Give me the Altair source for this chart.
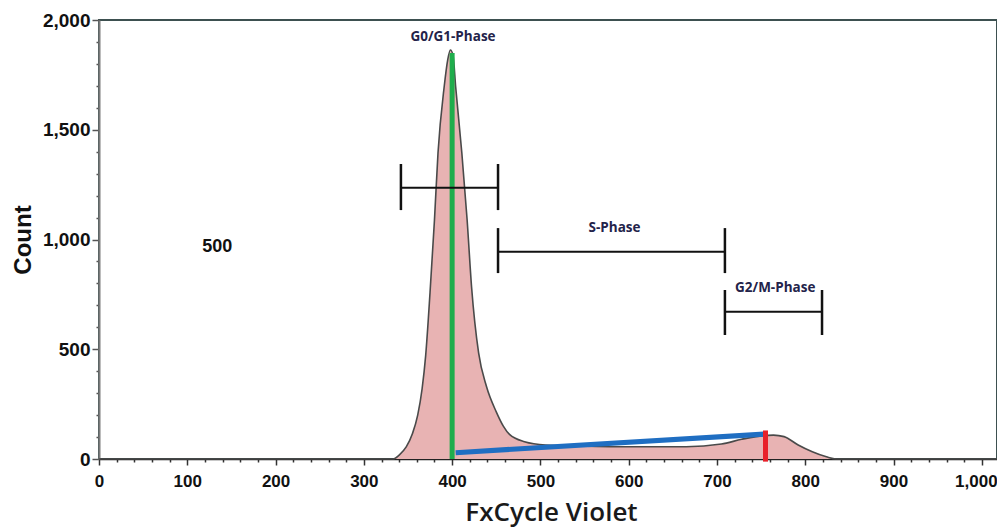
import altair as alt
import pandas as pd

# Histogram (FxCycle Violet channel vs. count)
hist_x = [0, 333, 340, 348, 355, 361, 366, 370, 375, 380, 384, 391, 395, 398, 401, 404, 411,
          417, 422, 430, 439, 450, 458, 465, 482, 506, 546, 585, 625, 665, 705, 728,
          744, 764, 776, 792, 808, 824, 835, 1017]
hist_count = [0, 0, 18, 55, 115, 200, 320, 470, 760, 1089, 1394, 1696, 1818, 1863, 1840, 1696, 1394,
              1089, 785, 483, 329, 215, 150, 112, 79, 64, 59, 56, 56, 56, 68, 90,
              102, 109, 102, 64, 33, 10, 0, 0]

# Phase gates (brackets)
gate_names = ["G0/G1", "S", "G2/M"]
gate_start = [342, 452, 709]
gate_end = [452, 709, 819]
gate_level = [1236, 944, 671]
gate_cap_low = [1134, 847, 565]
gate_cap_high = [1344, 1052, 770]

# Text labels
label_text = ["G0/G1-Phase", "S-Phase", "G2/M-Phase"]
label_x = [401, 584, 766]
label_y = [1923, 1052, 779]

side_text = ["500"]
side_x = [134]
side_y = [968]

# Marker lines
green_x = [400]
green_top = [1850]
red_x = [755]
red_low = [-12]
red_high = [130]
blue_x1, blue_y1, blue_x2, blue_y2 = [404], [29], [756], [114]

x_ticks = list(range(0, 1001, 20))
y_ticks = list(range(0, 2001, 100))

hist = pd.DataFrame({"x": hist_x, "count": hist_count})
gates = pd.DataFrame({"name": gate_names, "x1": gate_start, "x2": gate_end,
                      "y": gate_level, "lo": gate_cap_low, "hi": gate_cap_high})
caps = pd.DataFrame({
    "x": gate_start + gate_end,
    "lo": gate_cap_low + gate_cap_low,
    "hi": gate_cap_high + gate_cap_high,
})
labels = pd.DataFrame({"t": label_text, "x": label_x, "y": label_y})
side = pd.DataFrame({"t": side_text, "x": side_x, "y": side_y})
green = pd.DataFrame({"x": green_x, "y": [0], "y2": green_top})
red = pd.DataFrame({"x": red_x, "y": red_low, "y2": red_high})
blue = pd.DataFrame({"x": blue_x1, "y": blue_y1, "x2": blue_x2, "y2": blue_y2})

xscale = alt.Scale(domain=[0, 1017.2], nice=False, zero=False)
yscale = alt.Scale(domain=[0, 2000], nice=False)

x_axis = alt.Axis(
    values=x_ticks, tickCount=200,
    labelExpr="datum.value % 100 === 0 ? format(datum.value, ',') : ''",
    labelOverlap=False, labelFlush=False,
    labelFont="Liberation Sans", labelFontWeight="bold", labelFontSize=17, labelColor="#111",
    labelPadding=8,
    labelOffset={"condition": {"test": "datum.value === 1000", "value": -6}, "value": 0},
    tickSize={"condition": {"test": "datum.value % 100 === 0", "value": 6}, "value": 3},
    tickColor="#333", tickWidth=1.5,
    domainColor="#222", domainWidth=1.5,
    grid=False,
    title="FxCycle Violet",
    titleFont="Open Sans", titleFontWeight=600, titleFontSize=26, titleColor="#1a1a1a",
    titleBaseline="alphabetic", titleY=61, titleX=452, titleAlign="center",
)
y_axis = alt.Axis(
    values=y_ticks, tickCount=200,
    labelExpr="datum.value % 500 === 0 ? format(datum.value, ',') : ''",
    labelOverlap=False, labelFlush=False,
    labelFont="Liberation Sans", labelFontWeight="bold", labelFontSize=19, labelColor="#111",
    labelPadding=2,
    tickSize={"condition": {"test": "datum.value % 500 === 0", "value": 7}, "value": 3},
    tickColor="#555", tickWidth=1.5,
    domainColor="#7a7a7a", domainWidth=2,
    grid=False,
    title="Count",
    titleFont="Liberation Sans", titleFontWeight="bold", titleFontSize=24, titleColor="#111",
    titleX=-76, titleY=219.5, titleAngle=270, titleAlign="center", titleBaseline="middle",
)

area = alt.Chart(hist).mark_area(color="#e8b3b3", interpolate="monotone").encode(
    x=alt.X("x:Q", scale=xscale, axis=x_axis),
    y=alt.Y("count:Q", scale=yscale, axis=y_axis),
)
outline = alt.Chart(hist).mark_line(color="#4a4a4a", strokeWidth=1.6, interpolate="monotone").encode(
    x=alt.X("x:Q", scale=xscale), y=alt.Y("count:Q", scale=yscale)
)
green_line = alt.Chart(green).mark_rule(color="#1fad4c", strokeWidth=5).encode(
    x=alt.X("x:Q", scale=xscale), y=alt.Y("y:Q", scale=yscale), y2="y2:Q"
)
red_line = alt.Chart(red).mark_rule(color="#e8202a", strokeWidth=5, clip=False).encode(
    x=alt.X("x:Q", scale=xscale), y=alt.Y("y:Q", scale=yscale), y2="y2:Q"
)
blue_line = alt.Chart(blue).mark_rule(color="#1f6ec2", strokeWidth=5, strokeCap="butt").encode(
    x=alt.X("x:Q", scale=xscale), y=alt.Y("y:Q", scale=yscale), x2="x2:Q", y2="y2:Q"
)
gate_lines = alt.Chart(gates).mark_rule(color="#111", strokeWidth=2).encode(
    x=alt.X("x1:Q", scale=xscale), x2="x2:Q", y=alt.Y("y:Q", scale=yscale)
)
gate_caps = alt.Chart(caps).mark_rule(color="#111", strokeWidth=2.5).encode(
    x=alt.X("x:Q", scale=xscale), y=alt.Y("lo:Q", scale=yscale), y2="hi:Q"
)
phase_text = alt.Chart(labels).mark_text(
    font="Open Sans", fontWeight="bold", fontSize=13.5, color="#23234a", baseline="middle"
).encode(x=alt.X("x:Q", scale=xscale), y=alt.Y("y:Q", scale=yscale), text="t:N")
side_label = alt.Chart(side).mark_text(
    font="Liberation Sans", fontWeight="bold", fontSize=18, color="#111", baseline="middle"
).encode(x=alt.X("x:Q", scale=xscale), y=alt.Y("y:Q", scale=yscale), text="t:N")

chart = alt.layer(
    area, outline, blue_line, green_line, red_line, gate_lines, gate_caps, phase_text, side_label
).properties(
    width=898, height=439,
    autosize=alt.AutoSizeParams(type="none"),
    padding={"left": 91, "top": 12, "right": 0, "bottom": 70},
    background="white",
).configure_view(stroke="#3d5050", strokeWidth=2)

chart.save("out.html", embed_options={"renderer": "svg", "actions": False})
